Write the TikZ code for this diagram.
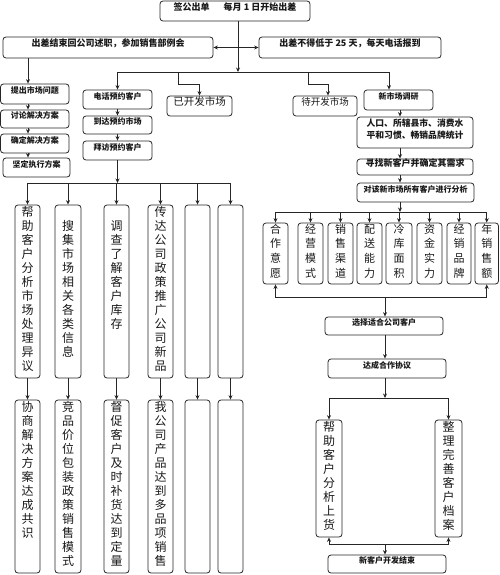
\documentclass[tikz,border=0pt]{standalone}
\usepackage{fontspec}
\newfontfamily\cjk{Noto Sans CJK SC}
\newcommand\vc[1]{\raisebox{-3.5pt}[10pt][3pt]{#1}}
\newcommand\vd[1]{\raisebox{-3.5pt}[10pt][3.6pt]{#1}}
\usetikzlibrary{arrows.meta,fit}
\begin{document}
\begin{tikzpicture}[x=1pt,y=-1pt,
  bx/.style={draw=black!85, line width=0.8pt, rounded corners=3pt, inner sep=0pt, fill=white, text=black!90},
  ln/.style={draw=black!85, line width=0.8pt},
  arr/.style={ln, -{Stealth[length=4.5pt,width=4pt]}},
  arrb/.style={ln, {Stealth[length=4.5pt,width=4pt]}-{Stealth[length=4.5pt,width=4pt]}},
  hA/.style={font=\cjk\bfseries\fontsize{9}{11}\selectfont},
  hB/.style={font=\cjk\bfseries\fontsize{8}{10}\selectfont},
  hC/.style={align=center, font=\cjk\bfseries\fontsize{8.8}{14}\selectfont},
  hD/.style={font=\cjk\fontsize{10.5}{12}\selectfont},
  hE/.style={font=\cjk\fontsize{9.5}{12}\selectfont},
  vA/.style={align=center, font=\cjk\fontsize{12}{14}\selectfont},
  vB/.style={align=center, font=\cjk\fontsize{11}{14.6}\selectfont},
]
\useasboundingbox (0,0) rectangle (500,575);
% top
\node[bx,hA,fit={(160,1)(310,21)}] (T) {签公出单\hspace{14pt}每月 1 日开始出差};
\node[bx,hA,fit={(3,37)(213,58)}] (L1) {出差结束回公司述职，参加销售部例会};
\node[bx,hA,fit={(259,37)(441,58)}] (R1) {出差不得低于 25 天，每天电话报到};
% left column
\node[bx,hB,fit={(0.5,84)(69,104)}] (Q1) {提出市场问题};
\node[bx,hB,fit={(0.5,110)(69,128)}] (Q2) {讨论解决方案};
\node[bx,hB,fit={(0.5,134)(69,153)}] (Q3) {确定解决方案};
\node[bx,hB,fit={(3,158)(70,177)}] (Q4) {坚定执行方案};
% phone column
\node[bx,hB,fit={(83,90)(152,109)}] (P1) {电话预约客户};
\node[bx,hB,fit={(83,116)(152,134)}] (P2) {到达预约市场};
\node[bx,hB,fit={(83,141)(152,160)}] (P3) {拜访预约客户};
\node[bx,hD,fit={(167,96)(232,116)}] (D1) {已开发市场};
\node[bx,hE,fit={(293,96)(357,116)}] (D2) {待开发市场};
% right column
\node[bx,hB,fit={(364,90)(433,110)}] (N1) {新市场调研};
\node[bx,hC,fit={(357,117)(473,148)}] (N2) {人口、所辖县市、消费水\\[-2pt]平和习惯、畅销品牌统计};
\node[bx,hA,fit={(357,159)(473,175)}] (N3) {寻找新客户并确定其需求};
\node[bx,hB,fit={(357,183)(474,202)}] (N4) {对该新市场所有客户进行分析};
% six tall boxes
\node[bx,vA,fit={(15,205)(40,378)}] (V1) {\vc{帮}\\\vc{助}\\\vc{客}\\\vc{户}\\\vc{分}\\\vc{析}\\\vc{市}\\\vc{场}\\\vc{处}\\\vc{理}\\\vc{异}\\\vc{议}};
\node[bx,vA,fit={(55,205)(81,378)}] (V2) {\vc{搜}\\\vc{集}\\\vc{市}\\\vc{场}\\\vc{相}\\\vc{关}\\\vc{各}\\\vc{类}\\\vc{信}\\\vc{息}};
\node[bx,vA,fit={(104,205)(129,378)}] (V3) {\vc{调}\\\vc{查}\\\vc{了}\\\vc{解}\\\vc{客}\\\vc{户}\\\vc{库}\\\vc{存}\\\vc{~}\\\vc{~}};
\node[bx,vA,fit={(148,205)(173,378)}] (V4) {\vc{传}\\\vc{达}\\\vc{公}\\\vc{司}\\\vc{政}\\\vc{策}\\\vc{推}\\\vc{广}\\\vc{公}\\\vc{司}\\\vc{新}\\\vc{品}};
\node[bx,vA,fit={(185,205)(210,378)}] (V5) {};
\node[bx,vA,fit={(218,205)(243,378)}] (V6) {};
\node[bx,vA,fit={(15,400)(40,573)}] (W1) {\vc{协}\\\vc{商}\\\vc{解}\\\vc{决}\\\vc{方}\\\vc{案}\\\vc{达}\\\vc{成}\\\vc{共}\\\vc{识}\\\vc{~}\\\vc{~}};
\node[bx,vA,fit={(55,400)(81,573)}] (W2) {\vc{竞}\\\vc{品}\\\vc{价}\\\vc{位}\\\vc{包}\\\vc{装}\\\vc{政}\\\vc{策}\\\vc{销}\\\vc{售}\\\vc{模}\\\vc{式}};
\node[bx,vA,fit={(104,400)(129,573)}] (W3) {\vc{督}\\\vc{促}\\\vc{客}\\\vc{户}\\\vc{及}\\\vc{时}\\\vc{补}\\\vc{货}\\\vc{达}\\\vc{到}\\\vc{定}\\\vc{量}};
\node[bx,vA,fit={(148,400)(173,573)}] (W4) {\vc{我}\\\vc{公}\\\vc{司}\\\vc{产}\\\vc{品}\\\vc{达}\\\vc{到}\\\vc{多}\\\vc{品}\\\vc{项}\\\vc{销}\\\vc{售}};
\node[bx,vA,fit={(185,400)(210,573)}] (W5) {};
\node[bx,vA,fit={(218,400)(243,573)}] (W6) {};
% eight factor boxes
\node[bx,vB,fit={(263,223)(288,284)}] (F1) {\vd{合}\\\vd{作}\\\vd{意}\\\vd{愿}};
\node[bx,vB,fit={(298,223)(323,284)}] (F2) {\vd{经}\\\vd{营}\\\vd{模}\\\vd{式}};
\node[bx,vB,fit={(328,223)(353,284)}] (F3) {\vd{销}\\\vd{售}\\\vd{渠}\\\vd{道}};
\node[bx,vB,fit={(357,223)(382,284)}] (F4) {\vd{配}\\\vd{送}\\\vd{能}\\\vd{力}};
\node[bx,vB,fit={(386,223)(412,284)}] (F5) {\vd{冷}\\\vd{库}\\\vd{面}\\\vd{积}};
\node[bx,vB,fit={(417,223)(442,284)}] (F6) {\vd{资}\\\vd{金}\\\vd{实}\\\vd{力}};
\node[bx,vB,fit={(447,223)(471,284)}] (F7) {\vd{经}\\\vd{销}\\\vd{品}\\\vd{牌}};
\node[bx,vB,fit={(475,223)(498.5,284)}] (F8) {\vd{年}\\\vd{销}\\\vd{售}\\\vd{额}};
% lower right
\node[bx,hB,fit={(325,317)(443,335)}] (S1) {选择适合公司客户};
\node[bx,hB,fit={(328,359)(446,378)}] (S2) {达成合作协议};
\node[bx,vA,fit={(316,420)(342,537)}] (G1) {\vc{帮}\\\vc{助}\\\vc{客}\\\vc{户}\\\vc{分}\\\vc{析}\\\vc{上}\\\vc{货}};
\node[bx,vA,fit={(435,420)(462,537)}] (G2) {\vc{整}\\\vc{理}\\\vc{完}\\\vc{善}\\\vc{客}\\\vc{户}\\\vc{档}\\\vc{案}};
\node[bx,hB,fit={(328,555)(446,573)}] (E) {新客户开发结束};
% coordinates
\coordinate (j1) at (238,72);
\coordinate (xN) at (389,0);
\coordinate (b1a) at (178,72); \coordinate (b1b) at (178,84);
\coordinate (b2a) at (308,72); \coordinate (b2b) at (308,84);
\coordinate (xD2) at (328,0);
\coordinate (xq) at (28,0);
\coordinate (bus2) at (117.5,183);
\coordinate (xn) at (400,0);
\coordinate (bus3) at (400,212);
\coordinate (xs) at (385,0);
\coordinate (bus4) at (385,297);
\coordinate (bus5) at (385,398);
\coordinate (bus6) at (385,544);
% top connectors
\draw[arr] (T.south -| j1) -- (j1);
\draw[arrb] (L1.east) -- (R1.west);
\draw[arr] (j1) -| (P1.north);
\draw[arr] (j1) -| (N1.north -| xN);
\draw[arr] (b1a) -- (b1b) -| (D1.north);
\draw[arr] (b2a) -- (b2b) -| (D2.north -| xD2);
% left chain
\draw[arr] (L1.south -| xq) -- (Q1.north -| xq);
\draw[arr] (Q1.south -| xq) -- (Q2.north -| xq);
\draw[arr] (Q2.south -| xq) -- (Q3.north -| xq);
\draw[arr] (Q3.south -| xq) -- (Q4.north -| xq);
% phone chain
\draw[arr] (P1.south) -- (P2.north);
\draw[arr] (P2.south) -- (P3.north);
\draw[arr] (P3.south) -- (bus2);
\draw[arr] (bus2) -| (V1.north);
\draw[arr] (bus2) -| (V6.north);
\draw[arr] (V2.north |- bus2) -- (V2.north);
\draw[arr] (V3.north |- bus2) -- (V3.north);
\draw[arr] (V4.north |- bus2) -- (V4.north);
\draw[arr] (V5.north |- bus2) -- (V5.north);
\foreach \i in {1,...,6} { \draw[arr] (V\i.south) -- (W\i.north); }
% right chain
\draw[arr] (N1.south -| xn) -- (N2.north -| xn);
\draw[arr] (N2.south -| xn) -- (N3.north -| xn);
\draw[arr] (N3.south -| xn) -- (N4.north -| xn);
\draw[arr] (N4.south -| xn) -- (bus3);
\draw[arr] (bus3) -| (F1.north);
\draw[arr] (bus3) -| (F8.north);
\foreach \i in {2,...,7} { \draw[arr] (F\i.north |- bus3) -- (F\i.north); }
\draw[arr] (bus4) -| (F1.south);
\draw[arr] (bus4) -| (F8.south);
\draw[arr] (bus4) -- (S1.north -| xs);
\draw[arr] (S1.south -| xs) -- (S2.north -| xs);
\draw[arr] (S2.south -| xs) -- (bus5);
\draw[arr] (bus5) -| (G1.north);
\draw[arr] (bus5) -| (G2.north);
\draw[arr] (bus6) -| (G1.south);
\draw[arr] (bus6) -| (G2.south);
\draw[arr] (bus6) -- (E.north -| xs);
\end{tikzpicture}
\end{document}
